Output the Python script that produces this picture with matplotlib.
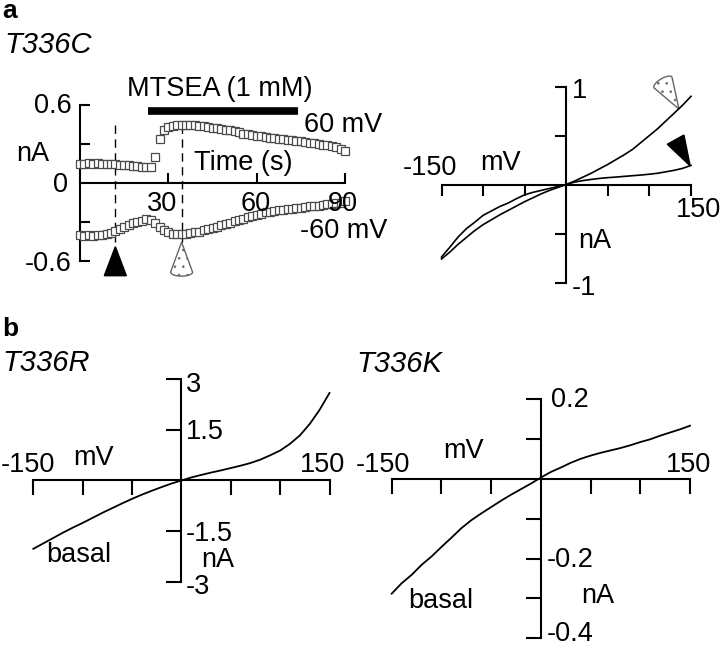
import numpy as np
import matplotlib
matplotlib.use("Agg")
import matplotlib.pyplot as plt
from matplotlib import transforms as mtransforms
from matplotlib.patches import Polygon

plt.rcParams['font.family'] = ['Liberation Sans', 'DejaVu Sans']
plt.rcParams['hatch.linewidth'] = 0.6

# ---------------- data ----------------
# panel a, time course (T336C), sampled every 1.5 s
time_s = np.arange(0, 90.01, 1.5)
i_plus60 = [0.15, 0.15, 0.155, 0.15, 0.155, 0.15, 0.15, 0.145, 0.145, 0.14, 0.14,
            0.135, 0.13, 0.13, 0.125, 0.12, 0.125, 0.20, 0.34, 0.41, 0.43, 0.44,
            0.45, 0.45, 0.45, 0.45, 0.445, 0.44, 0.435, 0.43, 0.425, 0.42, 0.415,
            0.41, 0.405, 0.40, 0.39, 0.38, 0.375, 0.37, 0.365, 0.36, 0.355, 0.35,
            0.345, 0.34, 0.335, 0.33, 0.33, 0.325, 0.32, 0.315, 0.31, 0.305, 0.30,
            0.295, 0.29, 0.285, 0.275, 0.265, 0.25]
i_minus60 = [-0.40, -0.41, -0.40, -0.41, -0.40, -0.40, -0.39, -0.385, -0.37, -0.35,
             -0.335, -0.32, -0.31, -0.30, -0.29, -0.28, -0.285, -0.31, -0.34, -0.365,
             -0.38, -0.39, -0.395, -0.395, -0.39, -0.385, -0.38, -0.375, -0.365,
             -0.355, -0.345, -0.335, -0.325, -0.315, -0.305, -0.295, -0.285, -0.275,
             -0.265, -0.255, -0.245, -0.235, -0.225, -0.22, -0.215, -0.21, -0.205,
             -0.20, -0.20, -0.195, -0.19, -0.185, -0.18, -0.18, -0.175, -0.17,
             -0.165, -0.16, -0.155, -0.15, -0.14]
mtsea_on, mtsea_off = 23.0, 74.0
t_basal, t_mtsea = 12.0, 34.5
tc_xticks = [30, 60, 90]
tc_yticks = [-0.6, -0.3, 0.3, 0.6]

# I-V ramps, every 10 mV
volt_mv = np.arange(-150, 151, 10)
iv_c_mtsea = [-0.76, -0.69, -0.61, -0.54, -0.47, -0.41, -0.36, -0.31, -0.265, -0.22,
              -0.175, -0.135, -0.095, -0.06, -0.03, 0.0, 0.035, 0.075, 0.115, 0.16,
              0.205, 0.255, 0.305, 0.36, 0.43, 0.50, 0.57, 0.65, 0.73, 0.81, 0.90]
iv_c_basal = [-0.74, -0.64, -0.535, -0.45, -0.385, -0.315, -0.27, -0.225, -0.19, -0.145,
              -0.105, -0.08, -0.06, -0.04, -0.02, 0.0, 0.025, 0.04, 0.052, 0.062,
              0.07, 0.076, 0.083, 0.09, 0.097, 0.105, 0.115, 0.13, 0.145, 0.165, 0.195]
iv_r_basal = [-2.03, -1.87, -1.71, -1.55, -1.40, -1.26, -1.11, -0.96, -0.82, -0.68,
              -0.545, -0.42, -0.305, -0.195, -0.09, 0.0, 0.09, 0.165, 0.235, 0.30,
              0.37, 0.44, 0.52, 0.62, 0.75, 0.89, 1.09, 1.34, 1.68, 2.10, 2.60]
iv_k_basal = [-0.288, -0.262, -0.241, -0.216, -0.195, -0.171, -0.148, -0.124, -0.104,
              -0.087, -0.071, -0.055, -0.040, -0.026, -0.012, 0.003, 0.017, 0.028,
              0.040, 0.050, 0.058, 0.065, 0.071, 0.077, 0.084, 0.092, 0.099, 0.108,
              0.116, 0.124, 0.133]
iv_xticks = [-150, -100, -50, 50, 100, 150]
c_yticks = [-1, -0.5, 0.5, 1]
r_yticks = [-3, -1.5, 1.5, 3]
k_yticks = [-0.4, -0.3, -0.2, -0.1, 0.1, 0.2]

# ---------------- layout helpers ----------------
W, H = 720, 646
fig = plt.figure(figsize=(W / 100, H / 100), dpi=100)
FS = 19.5
FT = 21


def box(l, r, t, b):
    return [l / W, 1 - b / H, (r - l) / W, (b - t) / H]


def txt(x, y, s, ha='left', size=FS, **kw):
    fig.text(x / W, 1 - y / H, s, ha=ha, va='baseline', fontsize=size, **kw)


def zero_axes(ax, xlim, ylim, xticks, yticks, xdir, ydir, tl):
    ax.set_xlim(*xlim)
    ax.set_ylim(*ylim)
    ax.patch.set_visible(False)
    for s in ['top', 'right']:
        ax.spines[s].set_visible(False)
    for s in ['bottom', 'left']:
        ax.spines[s].set_position(('data', 0))
        ax.spines[s].set_linewidth(1.5)
        ax.spines[s].set_capstyle('projecting')
    ax.set_xticks(xticks)
    ax.set_yticks(yticks)
    ax.tick_params(axis='x', direction=xdir, length=tl, width=1.5,
                   labelbottom=False)
    ax.tick_params(axis='y', direction=ydir, length=tl, width=1.5,
                   labelleft=False)


def pointer(ax, x, y, angle, filled, L=30, w=21):
    if filled:
        verts = [(0, 0), (-w / 2, L), (w / 2, L)]
    else:
        th = np.linspace(np.pi, 0, 25)
        arc = [(w / 2 * np.cos(t), L + 4 * np.sin(t)) for t in th]
        verts = [(0, 0)] + arc
    tr = mtransforms.Affine2D().rotate_deg(angle) + \
        mtransforms.ScaledTranslation(x, y, ax.transData)
    if filled:
        p = Polygon(verts, closed=True, transform=tr, clip_on=False,
                    facecolor='black', edgecolor='black', lw=1.0)
    else:
        p = Polygon(verts, closed=True, transform=tr, clip_on=False,
                    facecolor='white', edgecolor='#666666', lw=1.0, hatch='..')
    ax.add_patch(p)


# ---------------- panel a : time course ----------------
ax1 = fig.add_axes(box(80, 345, 105, 261))
zero_axes(ax1, (0, 90), (-0.6, 0.6), tc_xticks, tc_yticks, 'in', 'in', 7)
ax1.spines['bottom'].set_bounds(0, 90)
for series in (i_plus60, i_minus60):
    ax1.plot(time_s, series, ls='none', marker='s', ms=5.3, mfc='white',
             mec='#4a4a4a', mew=0.9, clip_on=False, zorder=3)
ax1.plot([mtsea_on, mtsea_off], [0.555, 0.555], color='black', lw=5.5,
         solid_capstyle='butt', clip_on=False)
for t in (t_basal, t_mtsea):
    ax1.plot([t, t], [0.445, -0.45], color='black', lw=1.0,
             dashes=(6, 4), zorder=2)
pointer(ax1, t_basal, -0.49, 180, True, L=29, w=22)
pointer(ax1, t_mtsea, -0.455, 180, False, L=30, w=22)

txt(2, 18, 'a', fontweight='bold', size=19)
txt(4, 53, 'T336C', size=FT, style='italic')
txt(220, 96, 'MTSEA (1 mM)', ha='center')
txt(72, 113, '0.6', ha='right')
txt(68, 192, '0', ha='right')
txt(72, 271, '-0.6', ha='right')
txt(16, 161, 'nA')
for xt, s in zip([162, 256, 343], tc_xticks):
    txt(xt, 211, str(s), ha='center')
txt(243, 170, 'Time (s)', ha='center')
txt(304, 132, '60 mV')
txt(300, 238, '-60 mV')

# ---------------- panel a : I-V ----------------
ax2 = fig.add_axes(box(441.5, 691, 86.5, 282.5))
zero_axes(ax2, (-150, 150), (-1, 1), iv_xticks, c_yticks, 'out', 'out', 8)
ax2.plot(volt_mv, iv_c_basal, color='black', lw=1.2, clip_on=False)
ax2.plot(volt_mv, iv_c_mtsea, color='black', lw=1.2, clip_on=False)
pointer(ax2, 135.5, 0.77, 31, False, L=31, w=21)
pointer(ax2, 149, 0.19, 29, True, L=30, w=19)
txt(572, 98, '1')
txt(403, 175, '-150')
txt(480, 170, 'mV')
txt(676, 217, '150')
txt(578, 248, 'nA')
txt(572, 295, '-1')

# ---------------- panel b : T336R ----------------
ax3 = fig.add_axes(box(33.3, 329.5, 379.5, 581.5))
zero_axes(ax3, (-150, 150), (-3, 3), iv_xticks, r_yticks, 'out', 'out', 11)
ax3.plot(volt_mv, iv_r_basal, color='black', lw=1.3, clip_on=False)
txt(2, 336, 'b', fontweight='bold', size=19)
txt(2, 371, 'T336R', size=FT, style='italic')
txt(186, 392, '3')
txt(186, 439, '1.5')
txt(1, 472, '-150')
txt(73, 465, 'mV')
txt(300, 472, '150')
txt(186, 541, '-1.5')
txt(201, 567, 'nA')
txt(186, 594, '-3')
txt(46, 562, 'basal')

# ---------------- panel b : T336K ----------------
ax4 = fig.add_axes(box(391.7, 690, 399, 638.3))
zero_axes(ax4, (-150, 150), (-0.4, 0.2), iv_xticks, k_yticks, 'out', 'out', 11)
ax4.plot(volt_mv, iv_k_basal, color='black', lw=1.3, clip_on=False)
txt(356, 372, 'T336K', size=FT, style='italic')
txt(551, 407, '0.2')
txt(443, 458, 'mV')
txt(356, 472, '-150')
txt(666, 472, '150')
txt(547, 567, '-0.2')
txt(581, 603, 'nA')
txt(547, 641, '-0.4')
txt(408, 608, 'basal')

fig.savefig('out.png', dpi=100)
